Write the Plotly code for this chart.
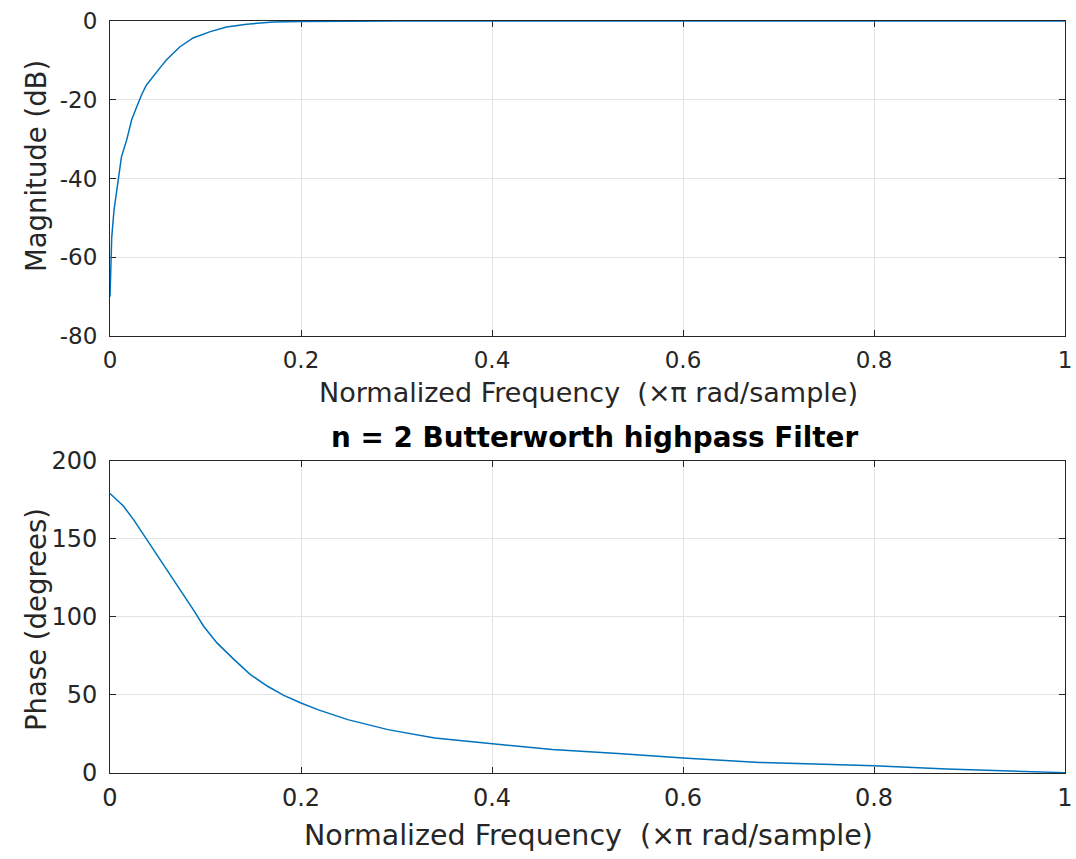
import plotly.graph_objects as go
from plotly.subplots import make_subplots

# Magnitude response (dB)
mag_freq = [0.0, 0.0008, 0.0018, 0.0042, 0.0087, 0.012, 0.0175, 0.0227, 0.028, 0.0307,
            0.033, 0.038, 0.0454, 0.054, 0.059, 0.073, 0.087, 0.105, 0.122, 0.143,
            0.171, 0.2, 0.3, 0.4, 0.6, 0.8, 1.0]
mag_db = [-70, -62, -55, -48, -40, -34.5, -30.2, -25.1, -21.8, -20.0,
          -18.8, -16.3, -13.9, -11.4, -9.9, -6.6, -4.3, -2.7, -1.5, -0.8,
          -0.25, -0.1, 0, 0, 0, 0, 0]

# Phase response (degrees)
ph_freq = [0.0, 0.014, 0.0245, 0.035, 0.0456, 0.056, 0.0667, 0.077, 0.0877, 0.098,
           0.112, 0.13, 0.147, 0.165, 0.182, 0.2, 0.2175, 0.249, 0.291, 0.34,
           0.4, 0.463, 0.536, 0.6, 0.68, 0.8, 0.876, 0.945, 1.0]
ph_deg = [179.1, 171.1, 162.6, 153.0, 143.3, 133.7, 124.0, 114.5, 104.2, 94.1,
          83.4, 72.7, 63.1, 55.6, 49.8, 44.9, 40.6, 34.2, 27.8, 22.5,
          18.8, 15.0, 12.4, 9.6, 6.8, 4.7, 2.6, 1.0, 0.2]

x_ticks = [0, 0.2, 0.4, 0.6, 0.8, 1]
x_ticktext = ["0", "0.2", "0.4", "0.6", "0.8", "1"]
mag_ticks = [-80, -60, -40, -20, 0]
mag_ticktext = ["-80", "-60", "-40", "-20", "0"]
ph_ticks = [0, 50, 100, 150, 200]
ph_ticktext = ["0", "50", "100", "150", "200"]

title_text = "n = 2 Butterworth highpass Filter"
xlabel = "Normalized Frequency  (\u00d7\u03c0 rad/sample)"

FONT = "DejaVu Sans"
DARK = "#262626"
LINE = "#0072BD"
GRID = "#e3e3e3"

fig = make_subplots(rows=2, cols=1, vertical_spacing=0.0)

fig.add_trace(go.Scatter(x=mag_freq, y=mag_db, mode="lines",
                         line=dict(color=LINE, width=1.5), showlegend=False,
                         hoverinfo="skip"), row=1, col=1)
fig.add_trace(go.Scatter(x=ph_freq, y=ph_deg, mode="lines",
                         line=dict(color=LINE, width=1.5), showlegend=False,
                         hoverinfo="skip"), row=2, col=1)

axis_common = dict(showline=True, linecolor=DARK, linewidth=1, mirror="ticks",
                   ticks="inside", ticklen=6, tickcolor=DARK, tickwidth=1,
                   showgrid=True, gridcolor=GRID, gridwidth=1, zeroline=False,
                   automargin=False, layer="below traces")

fig.update_xaxes(**axis_common, range=[0, 1], tickvals=x_ticks, ticktext=x_ticktext,
                 ticklabelstandoff=3)
fig.update_yaxes(**axis_common, ticklabelstandoff=7)
fig.update_xaxes(tickfont=dict(family=FONT, size=23, color=DARK), row=1, col=1)
fig.update_xaxes(tickfont=dict(family=FONT, size=24, color=DARK), row=2, col=1)
fig.update_yaxes(range=[-80, 0], tickvals=mag_ticks, ticktext=mag_ticktext,
                 tickfont=dict(family=FONT, size=23, color=DARK), row=1, col=1)
fig.update_yaxes(range=[0, 200], tickvals=ph_ticks, ticktext=ph_ticktext,
                 tickfont=dict(family=FONT, size=24, color=DARK), row=2, col=1)

fig.update_layout(
    width=1076, height=859,
    margin=dict(l=110, r=11, t=21, b=86, autoexpand=False),
    paper_bgcolor="white", plot_bgcolor="white",
    font=dict(family=FONT, color=DARK),
    xaxis=dict(domain=[0, 1], anchor="y"),
    yaxis=dict(domain=[0.5811, 1.0], anchor="x"),
    xaxis2=dict(domain=[0, 1], anchor="y2"),
    yaxis2=dict(domain=[0.0, 0.4149], anchor="x2"),
)

annos = [
    dict(text=xlabel, x=(588 - 110) / 955, y=392, size=27, bold=False),
    dict(text=xlabel, x=(588 - 110) / 955, y=836, size=28.5, bold=False),
    dict(text="<b>" + title_text + "</b>", x=(594 - 110) / 955, y=437, size=27.8, bold=True),
]
for a in annos:
    fig.add_annotation(text=a["text"], xref="paper", yref="paper",
                       x=a["x"], y=1 - (a["y"] - 21) / 752,
                       showarrow=False, xanchor="center", yanchor="middle",
                       font=dict(family=FONT, color=DARK if not a["bold"] else "black",
                                 size=a["size"]))

fig.add_annotation(text="Magnitude (dB)", xref="paper", yref="paper",
                   x=(36 - 110) / 955, y=1 - (166 - 21) / 752, textangle=-90,
                   showarrow=False, xanchor="center", yanchor="middle",
                   font=dict(family=FONT, color=DARK, size=27.5))
fig.add_annotation(text="Phase (degrees)", xref="paper", yref="paper",
                   x=(36 - 110) / 955, y=1 - (620 - 21) / 752, textangle=-90,
                   showarrow=False, xanchor="center", yanchor="middle",
                   font=dict(family=FONT, color=DARK, size=27.5))

fig.write_html("out.html")
